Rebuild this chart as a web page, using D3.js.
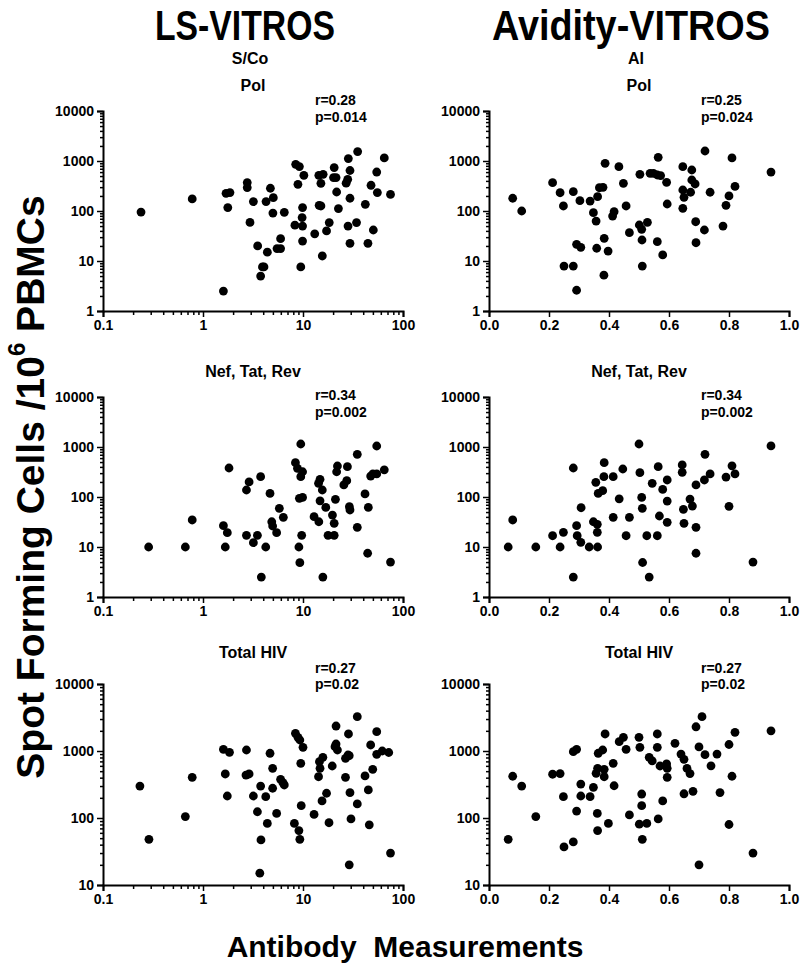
<!DOCTYPE html>
<html>
<head>
<meta charset="utf-8">
<script src="https://cdn.jsdelivr.net/npm/d3@7"></script>
<style>
  body { margin: 0; background: #fff; }
  svg text { font-family: "Liberation Sans", Arial, sans-serif; font-weight: bold; fill: #000; }
</style>
</head>
<body>
<svg id="chart" width="800" height="969"></svg>
<script>
// [antibody value, SFC per 10^6 PBMC]
const lsPol = [[0.24,95],[0.78,174],[1.6,2.5],[1.7,226],[1.86,234],[1.77,117],[2.77,370],[2.77,294],[2.95,59],[3.19,154],
  [3.52,20],[3.77,5],[3.93,7.6],[4.07,7.6],[4.27,154],[4.4,15],[4.72,285],[5.05,185],[5.0,91],[5.5,17.7],
  [5.97,17.7],[5.97,28],[6.5,94],[8.45,860],[9.2,775],[10.2,518],[8.9,342],[8.3,52],[9.9,50],[9.8,74],
  [9.9,117],[9.9,25],[9.5,7.6],[13.1,35],[14.5,130],[15.1,126],[14.4,518],[15.9,542],[15.1,358],[15.6,12.6],
  [17.2,40],[18.3,58.6],[20.5,738],[20.2,466],[21.4,466],[21.7,240],[22.6,112],[27,360],[28,430],[28.4,1117],
  [29.5,646],[29.5,180],[28.2,50],[34.3,58.6],[29.5,22.6],[35.2,1542],[42,136],[47.9,327],[50.5,41.7],[44.6,22.6],
  [54.6,602],[55.4,234],[65,1150],[75,215]];

const avPol = [[0.079,180],[0.109,100],[0.212,368],[0.237,232],[0.248,126],[0.25,7.9],[0.281,7.9],[0.281,243],[0.303,161],[0.292,21.6],
  [0.306,18.8],[0.292,2.6],[0.337,158],[0.348,92.5],[0.357,63],[0.362,193],[0.368,292],[0.38,297],[0.387,899],[0.359,18],
  [0.384,28.4],[0.397,15.8],[0.383,5.2],[0.412,79],[0.417,97],[0.433,769],[0.448,358],[0.457,126],[0.468,36.8],[0.503,542],
  [0.501,52.5],[0.509,43],[0.51,26.3],[0.511,7.9],[0.528,59.4],[0.537,568],[0.548,568],[0.561,24.3],[0.564,1186],[0.561,525],
  [0.572,510],[0.579,13.2],[0.592,375],[0.594,138],[0.646,769],[0.676,661],[0.676,417],[0.687,347],[0.646,263],[0.65,188],
  [0.672,237],[0.646,113],[0.689,61],[0.718,41.7],[0.69,23.2],[0.72,1585],[0.737,237],[0.81,1150],[0.82,310],[0.8,200],
  [0.79,130],[0.78,50],[0.94,600]];

const lsNef = [[0.286,10],[0.666,10],[0.78,34.7],[1.6,26.7],[1.75,19.3],[1.67,10],[1.82,380],[2.72,138],[2.89,200],[2.72,17.1],
  [3.19,12.2],[3.5,17.1],[3.77,255],[3.83,2.5],[4.24,10],[4.68,118],[4.87,32],[4.97,26.3],[5.45,19.3],[5.8,59.4],
  [6.36,39.3],[8.4,485],[8.8,374],[9.5,1148],[9.9,320],[9.5,255],[9.2,94],[9.9,98],[9.7,17.1],[9.1,10],
  [9.3,4.85],[12.9,40.4],[14.4,32],[15.8,2.5],[14.8,226],[14.3,188],[15.6,138],[14.8,84],[16.9,62],[17.8,17.1],
  [20.5,17.1],[19.7,43.6],[20.5,29.8],[21.1,90],[21.7,320],[22.1,417],[25.6,174],[27.4,212],[27.8,404],[29.1,64],
  [29.5,55],[34.9,714],[34.9,24.8],[41.7,115],[45,62],[44.3,7.5],[47.5,262],[50,290],[54.6,1047],[54.6,290],
  [65,350],[75,5]];

const avNef = [[0.064,10],[0.079,34.7],[0.156,10],[0.212,16.8],[0.237,10],[0.248,19.7],[0.281,380],[0.281,2.5],[0.292,26.7],[0.294,16.8],
  [0.306,12.4],[0.307,61],[0.334,10],[0.348,32],[0.361,28.4],[0.361,19.7],[0.362,10],[0.356,197],[0.364,118],[0.379,134],
  [0.384,485],[0.383,255],[0.414,255],[0.414,39.3],[0.434,92],[0.446,363],[0.457,16.8],[0.468,39.3],[0.5,1148],[0.503,306],
  [0.509,98],[0.511,59.4],[0.512,4.9],[0.526,16.8],[0.534,2.5],[0.544,188],[0.564,404],[0.568,41.7],[0.561,16.8],[0.579,142],
  [0.594,219],[0.594,83],[0.594,31.2],[0.644,437],[0.644,312],[0.648,56.7],[0.67,91],[0.678,66],[0.65,29.8],[0.69,174],
  [0.69,24.8],[0.69,7.5],[0.72,714],[0.718,219],[0.737,290],[0.81,420],[0.82,290],[0.79,250],[0.8,65],[0.94,1050],
  [0.88,5]];

const lsTotal = [[0.234,300],[0.288,48],[0.666,105],[0.78,405],[1.6,1060],[1.84,955],[1.67,454],[1.75,213],[2.72,1035],[2.69,437],
  [2.89,454],[3.19,213],[3.5,124],[3.77,300],[4.24,208],[4.4,83],[3.8,47],[3.7,15],[4.68,925],[4.97,552],
  [4.97,278],[5.45,117],[5.97,378],[6.3,337],[6.5,311],[8.4,1837],[8.9,1600],[9.3,1459],[10.0,1135],[9.5,655],
  [9.6,153],[8.2,83],[9.1,65],[9.3,48],[12.9,113],[14.3,413],[14.8,552],[14.6,692],[15.8,805],[15.5,180],
  [17.2,234],[18.2,85],[19.6,597],[20.9,1159],[21.4,1271],[22.1,1035],[21.4,2360],[26.6,778],[28.2,871],[29,850],
  [26.6,405],[29.5,239],[30.2,97],[29,20],[34.9,3250],[28.5,1795],[34.9,162],[41.7,424],[45,262],[47.5,1230],
  [54.6,1941],[54.6,893],[49.8,533],[46,79],[62,1000],[72,950],[75,30]];

const avTotal = [[0.064,48],[0.079,420],[0.109,300],[0.156,105],[0.212,450],[0.237,460],[0.248,208],[0.25,37],[0.281,44],[0.281,977],
  [0.292,1060],[0.292,127],[0.306,213],[0.306,321],[0.337,208],[0.348,287],[0.357,465],[0.362,552],[0.361,117],[0.362,65],
  [0.364,925],[0.379,1035],[0.387,1795],[0.384,533],[0.384,413],[0.398,83],[0.414,655],[0.417,303],[0.434,1377],[0.448,1600],
  [0.457,1060],[0.468,111],[0.5,1600],[0.503,1135],[0.509,228],[0.509,153],[0.501,81],[0.526,83],[0.511,48],[0.534,805],
  [0.544,710],[0.561,1795],[0.561,1135],[0.564,97],[0.57,597],[0.579,180],[0.592,640],[0.594,552],[0.594,405],[0.62,1300],
  [0.64,900],[0.65,750],[0.66,550],[0.67,460],[0.68,250],[0.69,2300],[0.71,3250],[0.7,1150],[0.72,880],[0.65,230],
  [0.7,20],[0.74,600],[0.76,900],[0.8,1250],[0.82,1900],[0.81,420],[0.8,80],[0.88,30],[0.94,2000],[0.77,240]];

const rowTitles = ['Pol', 'Nef, Tat, Rev', 'Total HIV'];
const colTitles = ['LS-VITROS', 'Avidity-VITROS'];
const colUnits = ['S/Co', 'AI'];
const rLabels = [['0.28', '0.25'], ['0.34', '0.34'], ['0.27', '0.27']];
const pLabels = [['0.014', '0.024'], ['0.002', '0.002'], ['0.02', '0.02']];
const logXTicks = [0.1, 1, 10, 100];
const linXTicks = [0, 0.2, 0.4, 0.6, 0.8, 1.0];

const panelData = [[lsPol, avPol], [lsNef, avNef], [lsTotal, avTotal]];

const svg = d3.select('#chart');

const cols = [
  { left: 103, width: 300, log: true },
  { left: 489, width: 300, log: false },
];
const rows = [
  { top: 111, height: 200, yDomain: [1, 10000], titleY: 85, rY: 100, pY: 117 },
  { top: 397, height: 200, yDomain: [1, 10000], titleY: 371, rY: 395, pY: 412 },
  { top: 684, height: 201, yDomain: [10, 10000], titleY: 652, rY: 668, pY: 684 },
];

const isPow10 = (v) => Math.abs(Math.log10(v) - Math.round(Math.log10(v))) < 1e-6;

function drawPanel(data, col, row, ri, ci) {
  const g = svg.append('g')
    .attr('transform', 'translate(' + col.left + ',' + row.top + ')');

  const x = col.log
    ? d3.scaleLog().domain([0.1, 100]).range([0, col.width])
    : d3.scaleLinear().domain([0, 1]).range([0, col.width]);
  const y = d3.scaleLog().domain(row.yDomain).range([row.height, 0]);

  // y axis: minor ticks then major
  const yMinor = y.ticks().filter((v) => !isPow10(v));
  g.append('g').call(d3.axisLeft(y).tickValues(yMinor).tickSize(3).tickFormat(''))
    .call((a) => a.select('.domain').remove());
  const yMajor = y.ticks().filter(isPow10);
  g.append('g').attr('class', 'axis')
    .call(d3.axisLeft(y).tickValues(yMajor).tickSize(6).tickPadding(3).tickFormat(d3.format('d')));

  // x axis
  const xg = g.append('g').attr('transform', 'translate(0,' + row.height + ')');
  if (col.log) {
    const xMinor = x.ticks().filter((v) => !isPow10(v));
    xg.append('g').call(d3.axisBottom(x).tickValues(xMinor).tickSize(4).tickFormat(''))
      .call((a) => a.select('.domain').remove());
    xg.append('g').attr('class', 'axis')
      .call(d3.axisBottom(x).tickValues(logXTicks).tickSize(6).tickPadding(3).tickFormat((d) => d));
  } else {
    xg.append('g').attr('class', 'axis')
      .call(d3.axisBottom(x).tickValues(linXTicks).tickSize(6).tickPadding(3).tickFormat(d3.format('.1f')));
  }

  g.selectAll('.domain').attr('stroke', '#000').attr('stroke-width', 2);
  g.selectAll('.tick line').attr('stroke', '#000').attr('stroke-width', 1.5);
  g.selectAll('.tick text').style('font-size', '14px').attr('fill', '#000');

  g.selectAll('circle.dot')
    .data(data)
    .enter()
    .append('circle')
    .attr('class', 'dot')
    .attr('cx', (d) => x(d[0]))
    .attr('cy', (d) => y(d[1]))
    .attr('r', 4.4)
    .attr('fill', '#000');

  // panel title and stats
  svg.append('text')
    .attr('x', col.left + col.width / 2).attr('y', row.titleY)
    .attr('text-anchor', 'middle').attr('dominant-baseline', 'central')
    .style('font-size', '16px')
    .text(rowTitles[ri]);

  svg.append('text')
    .attr('x', col.left + 212).attr('y', row.rY)
    .attr('dominant-baseline', 'central')
    .style('font-size', '14px')
    .text('r=' + rLabels[ri][ci]);
  svg.append('text')
    .attr('x', col.left + 212).attr('y', row.pY)
    .attr('dominant-baseline', 'central')
    .style('font-size', '14px')
    .text('p=' + pLabels[ri][ci]);
}

rows.forEach((row, ri) => {
  cols.forEach((col, ci) => {
    drawPanel(panelData[ri][ci], col, row, ri, ci);
  });
});

// column headings (narrow bold face, squeezed to the reference width)
const titleWidths = [180, 278];
cols.forEach((col, ci) => {
  svg.append('text')
    .attr('x', col.left + col.width / 2 - 8).attr('y', 40)
    .attr('text-anchor', 'middle')
    .attr('textLength', titleWidths[ci]).attr('lengthAdjust', 'spacingAndGlyphs')
    .style('font-size', '42px')
    .text(colTitles[ci]);
  svg.append('text')
    .attr('x', col.left + col.width / 2 - 3).attr('y', 58)
    .attr('text-anchor', 'middle').attr('dominant-baseline', 'central')
    .style('font-size', '16px')
    .text(colUnits[ci]);
});

// axis titles
const yTitle = svg.append('text')
  .attr('transform', 'translate(30,487) rotate(-90)')
  .attr('text-anchor', 'middle').attr('dominant-baseline', 'central')
  .style('font-size', '39px');
yTitle.append('tspan').text('Spot Forming Cells /10');
yTitle.append('tspan').attr('dy', -14).style('font-size', '24px').text('6');
yTitle.append('tspan').attr('dy', 14).text(' PBMCs');

svg.append('text')
  .attr('x', 405).attr('y', 946)
  .attr('text-anchor', 'middle').attr('dominant-baseline', 'central')
  .style('font-size', '30px')
  .style('white-space', 'pre')
  .text('Antibody  Measurements');
</script>
</body>
</html>
